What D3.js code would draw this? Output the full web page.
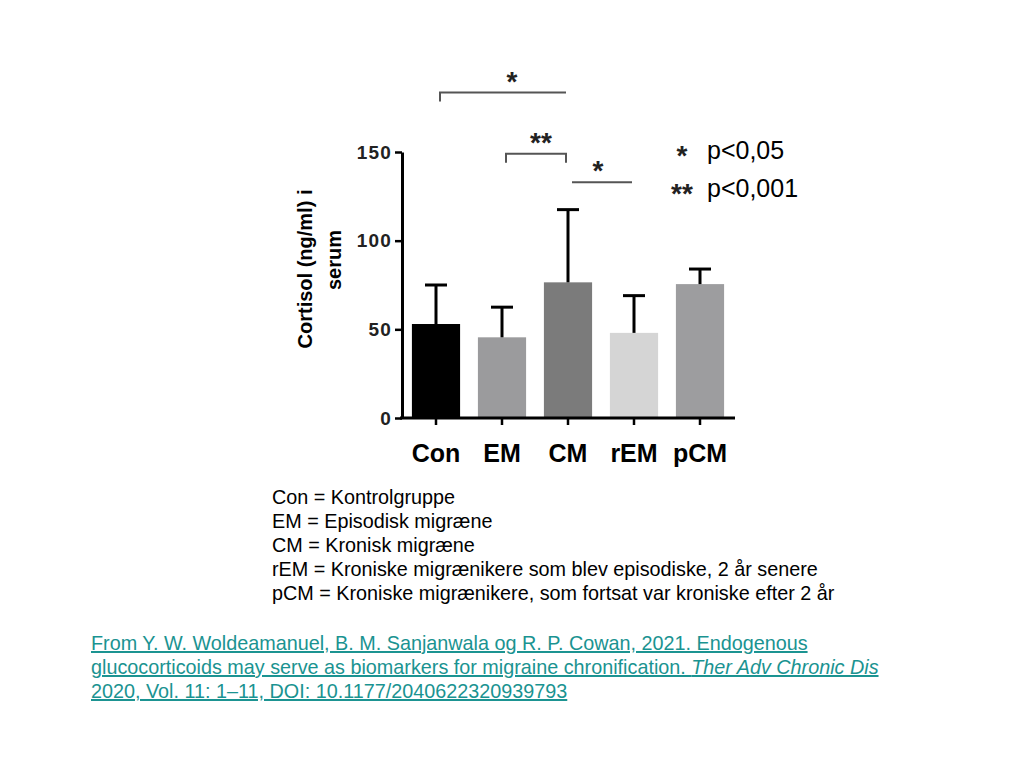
<!DOCTYPE html>
<html>
<head>
<meta charset="utf-8">
<script src="https://cdn.jsdelivr.net/npm/d3@7"></script>
<style>
  body { margin: 0; background: #fff; }
  text { font-family: "Liberation Sans", Arial, sans-serif; }
</style>
</head>
<body>
<div id="container"></div>
<script>
const groups = ['Con', 'EM', 'CM', 'rEM', 'pCM'];
const means = [53, 45.5, 76.5, 48, 75.5];
const sdUpper = [75, 62.5, 117.5, 69, 84];
const barColors = ['#000000', '#9b9b9d', '#7b7b7b', '#d5d5d5', '#9d9d9f'];
const yTicks = [0, 50, 100, 150];

// significance brackets: from group, to group, level (cortisol units), label, drop on left/right
const brackets = [
  { from: 'Con', to: 'CM', level: 183.5, label: '*', dropL: true, dropR: false },
  { from: 'EM', to: 'CM', level: 149, label: '**', dropL: true, dropR: true },
  { from: 'CM', to: 'rEM', level: 133, label: '*', dropL: false, dropR: false }
];
const labelShift = [9, 5, -4];

const pLegend = [
  { mark: '*', text: 'p<0,05' },
  { mark: '**', text: 'p<0,001' }
];

const abbrevLines = [
  'Con = Kontrolgruppe',
  'EM = Episodisk migræne',
  'CM = Kronisk migræne',
  'rEM = Kroniske migrænikere som blev episodiske, 2 år senere',
  'pCM = Kroniske migrænikere, som fortsat var kroniske efter 2 år'
];

const citationLines = [
  [{ t: 'From Y. W. Woldeamanuel, B. M. Sanjanwala og R. P. Cowan, 2021. Endogenous', i: false }],
  [{ t: 'glucocorticoids may serve as biomarkers for migraine chronification. ', i: false },
   { t: 'Ther Adv Chronic Dis', i: true }],
  [{ t: '2020, Vol. 11: 1\u201311, DOI: 10.1177/2040622320939793', i: false }]
];

plot();

function plot() {
  const width = 1024;
  const height = 768;

  const svg = d3.select('#container').append('svg')
    .attr('width', width)
    .attr('height', height);

  const xScale = d3.scaleBand()
    .domain(groups)
    .range([403, 733])
    .paddingInner(0.27)
    .paddingOuter(0.135);

  const yScale = d3.scaleLinear()
    .domain([0, 150])
    .range([418, 152]);

  const cx = g => xScale(g) + xScale.bandwidth() / 2;

  // bars
  svg.selectAll('rect.bar')
    .data(groups)
    .enter()
    .append('rect')
    .attr('class', 'bar')
    .attr('x', d => xScale(d))
    .attr('y', (d, i) => yScale(means[i]))
    .attr('width', xScale.bandwidth())
    .attr('height', (d, i) => yScale(0) - yScale(means[i]))
    .attr('fill', (d, i) => barColors[i]);

  // error bars (upper only)
  const err = svg.append('g').attr('stroke', '#000').attr('stroke-width', 3);
  groups.forEach((g, i) => {
    err.append('line')
      .attr('x1', cx(g)).attr('x2', cx(g))
      .attr('y1', yScale(means[i])).attr('y2', yScale(sdUpper[i]));
    err.append('line')
      .attr('x1', cx(g) - 11).attr('x2', cx(g) + 11)
      .attr('y1', yScale(sdUpper[i])).attr('y2', yScale(sdUpper[i]));
  });

  // y axis
  const yAxis = d3.axisLeft(yScale)
    .tickValues(yTicks)
    .tickSize(7)
    .tickSizeOuter(0)
    .tickPadding(3);
  const gy = svg.append('g')
    .attr('transform', 'translate(402,0)')
    .call(yAxis);
  gy.select('.domain').attr('stroke', '#000').attr('stroke-width', 3);
  gy.selectAll('.tick line').attr('stroke', '#000').attr('stroke-width', 2.5);
  gy.selectAll('.tick text')
    .attr('fill', '#222')
    .style('font-size', '19px')
    .style('font-weight', 'bold')
    .style('letter-spacing', '1.2px');

  // x axis
  const xAxis = d3.axisBottom(xScale)
    .tickSize(7)
    .tickSizeOuter(0)
    .tickPadding(19);
  const gx = svg.append('g')
    .attr('transform', 'translate(0,418)')
    .call(xAxis);
  gx.select('.domain')
    .attr('d', 'M400,0H735')
    .attr('stroke', '#000').attr('stroke-width', 3);
  gx.selectAll('.tick line').attr('stroke', '#000').attr('stroke-width', 2.5);
  gx.selectAll('.tick text')
    .attr('fill', '#000')
    .style('font-size', '25px')
    .style('font-weight', 'bold');

  // y title
  svg.append('text')
    .attr('transform', 'translate(312,269) rotate(-90)')
    .attr('text-anchor', 'middle')
    .style('font-size', '20px')
    .style('font-weight', 'bold')
    .text('Cortisol (ng/ml) i');
  svg.append('text')
    .attr('transform', 'translate(341,260) rotate(-90)')
    .attr('text-anchor', 'middle')
    .style('font-size', '20px')
    .style('font-weight', 'bold')
    .text('serum');

  // significance brackets
  const br = svg.append('g');
  brackets.forEach((b, i) => {
    const x1 = cx(b.from) + 4;
    const x2 = cx(b.to) - 2;
    const y = yScale(b.level);
    const drop = 9;
    const path = d3.path();
    path.moveTo(x1, y + (b.dropL ? drop : 0));
    path.lineTo(x1, y);
    path.lineTo(x2, y);
    path.lineTo(x2, y + (b.dropR ? drop : 0));
    br.append('path')
      .attr('d', path.toString())
      .attr('fill', 'none')
      .attr('stroke', '#555')
      .attr('stroke-width', 2);
    br.append('text')
      .attr('x', (x1 + x2) / 2 + labelShift[i])
      .attr('y', y - 2)
      .attr('text-anchor', 'middle')
      .style('font-size', '28px')
      .style('font-weight', 'bold')
      .attr('fill', '#222')
      .text(b.label);
  });

  // p-value legend
  const pl = svg.append('g');
  pLegend.forEach((p, i) => {
    pl.append('text')
      .attr('x', 682)
      .attr('y', 165 + i * 38)
      .attr('text-anchor', 'middle')
      .style('font-size', '28px')
      .style('font-weight', 'bold')
      .attr('fill', '#222')
      .text(p.mark);
    pl.append('text')
      .attr('x', 707)
      .attr('y', 159 + i * 38)
      .style('font-size', '25px')
      .attr('fill', '#000')
      .text(p.text);
  });

  // abbreviations
  svg.append('g')
    .selectAll('text')
    .data(abbrevLines)
    .enter()
    .append('text')
    .attr('x', 272)
    .attr('y', (d, i) => 504 + i * 24)
    .style('font-size', '19.8px')
    .attr('fill', '#000')
    .text(d => d);

  // citation
  const cite = svg.append('g');
  citationLines.forEach((line, i) => {
    const t = cite.append('text')
      .attr('x', 91)
      .attr('y', 650 + i * 24)
      .attr('fill', '#1a9391')
      .style('font-size', '19.8px')
      .style('text-decoration', 'underline');
    line.forEach(seg => {
      t.append('tspan')
        .style('font-style', seg.i ? 'italic' : 'normal')
        .text(seg.t);
    });
  });
}
</script>
</body>
</html>
